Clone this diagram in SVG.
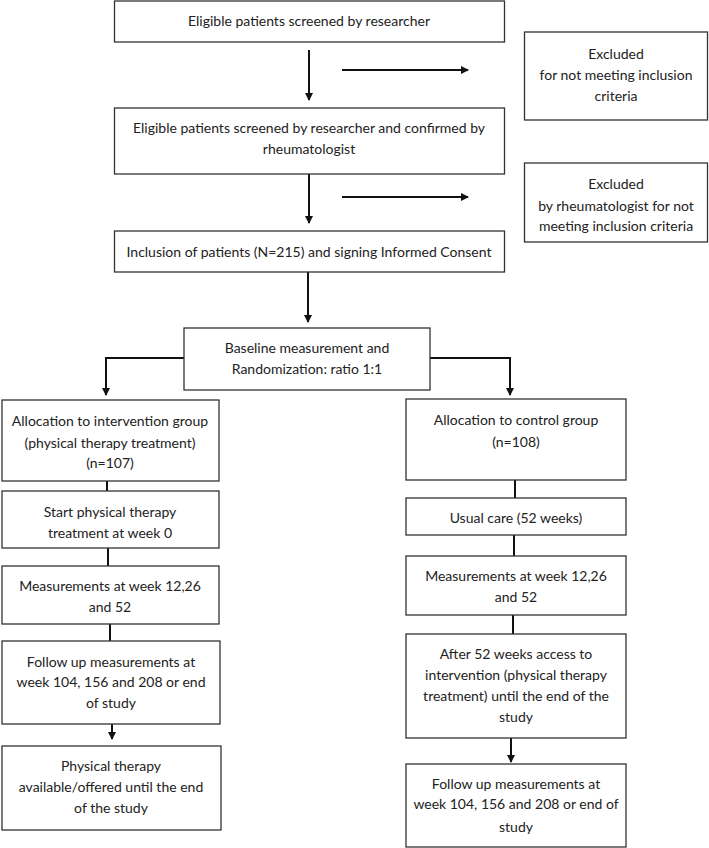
<svg xmlns="http://www.w3.org/2000/svg" width="709" height="848" viewBox="0 0 709 848">
<style>
.box{fill:#fff;stroke:#333;stroke-width:1.3}
.t{font-family:Lato,"Liberation Sans",sans-serif;font-size:14px;fill:#222;text-anchor:middle}
.c{fill:none;stroke:#111;stroke-width:2}
</style>
<defs>
<marker id="ah" markerWidth="8" markerHeight="8" refX="7" refY="4" orient="auto" markerUnits="userSpaceOnUse">
<path d="M0,0 L8,4 L0,8 Z" fill="#111"/>
</marker>
</defs>
<rect width="709" height="848" fill="#fff"/>
<g id="connectors">
<line class="c" x1="309" y1="50" x2="309" y2="100" marker-end="url(#ah)"/>
<line class="c" x1="342" y1="70" x2="468" y2="70" marker-end="url(#ah)"/>
<line class="c" x1="309" y1="174" x2="309" y2="223" marker-end="url(#ah)"/>
<line class="c" x1="342" y1="197" x2="468" y2="197" marker-end="url(#ah)"/>
<line class="c" x1="308" y1="272" x2="308" y2="322" marker-end="url(#ah)"/>
<polyline class="c" points="184,358 106,358 106,395" marker-end="url(#ah)"/>
<polyline class="c" points="430,358 510,358 510,395" marker-end="url(#ah)"/>
<line class="c" x1="107" y1="481" x2="107" y2="491"/>
<line class="c" x1="108" y1="548" x2="108" y2="566"/>
<line class="c" x1="110" y1="624" x2="110" y2="641"/>
<line class="c" x1="112" y1="724" x2="112" y2="739" marker-end="url(#ah)"/>
<line class="c" x1="515" y1="480" x2="515" y2="498"/>
<line class="c" x1="514" y1="535" x2="514" y2="556"/>
<line class="c" x1="513" y1="615" x2="513" y2="634"/>
<line class="c" x1="511" y1="738" x2="511" y2="762" marker-end="url(#ah)"/>
</g>
<g id="n1"><rect class="box" x="114.5" y="1" width="390" height="41"/><text class="t" x="309" y="26">Eligible patients screened by researcher</text></g>
<g id="ex1"><rect class="box" x="524.5" y="32" width="183" height="88"/><text class="t" x="616" y="59">Excluded</text><text class="t" x="616" y="80">for not meeting inclusion</text><text class="t" x="616" y="101">criteria</text></g>
<g id="n2"><rect class="box" x="114.5" y="108" width="390" height="66"/><text class="t" x="309" y="133">Eligible patients screened by researcher and confirmed by</text><text class="t" x="309" y="154">rheumatologist</text></g>
<g id="ex2"><rect class="box" x="524.5" y="163" width="183" height="79"/><text class="t" x="616" y="189">Excluded</text><text class="t" x="616" y="211">by rheumatologist for not</text><text class="t" x="616" y="231">meeting inclusion criteria</text></g>
<g id="n3"><rect class="box" x="114.5" y="231" width="390" height="41"/><text class="t" x="309" y="257">Inclusion of patients (N=215) and signing Informed Consent</text></g>
<g id="n4"><rect class="box" x="184" y="328" width="246" height="62"/><text class="t" x="307" y="353">Baseline measurement and</text><text class="t" x="307" y="374">Randomization: ratio 1:1</text></g>
<g id="l1"><rect class="box" x="2" y="400" width="217" height="81"/><text class="t" x="110" y="426">Allocation to intervention group</text><text class="t" x="110" y="448">(physical therapy treatment)</text><text class="t" x="110" y="468">(n=107)</text></g>
<g id="l2"><rect class="box" x="2" y="491" width="217" height="57"/><text class="t" x="110" y="517">Start physical therapy</text><text class="t" x="110" y="538">treatment at week 0</text></g>
<g id="l3"><rect class="box" x="2" y="566" width="217" height="58"/><text class="t" x="110" y="591">Measurements at week 12,26</text><text class="t" x="110" y="612">and 52</text></g>
<g id="l4"><rect class="box" x="2" y="641" width="218" height="83"/><text class="t" x="111" y="667">Follow up measurements at</text><text class="t" x="111" y="687">week 104, 156 and 208 or end</text><text class="t" x="111" y="708">of study</text></g>
<g id="l5"><rect class="box" x="2" y="746" width="219" height="84"/><text class="t" x="111" y="771">Physical therapy</text><text class="t" x="111" y="792">available/offered until the end</text><text class="t" x="111" y="813">of the study</text></g>
<g id="r1"><rect class="box" x="406" y="399" width="220" height="81"/><text class="t" x="516" y="425">Allocation to control group</text><text class="t" x="516" y="447">(n=108)</text></g>
<g id="r2"><rect class="box" x="406" y="498" width="220" height="37"/><text class="t" x="516" y="523">Usual care (52 weeks)</text></g>
<g id="r3"><rect class="box" x="406" y="556" width="220" height="59"/><text class="t" x="516" y="581">Measurements at week 12,26</text><text class="t" x="516" y="602">and 52</text></g>
<g id="r4"><rect class="box" x="406" y="634" width="220" height="104"/><text class="t" x="516" y="659">After 52 weeks access to</text><text class="t" x="516" y="680">intervention (physical therapy</text><text class="t" x="516" y="701">treatment) until the end of the</text><text class="t" x="516" y="722">study</text></g>
<g id="r5"><rect class="box" x="406" y="764" width="220" height="83"/><text class="t" x="516" y="789">Follow up measurements at</text><text class="t" x="516" y="809">week 104, 156 and 208 or end of</text><text class="t" x="516" y="832">study</text></g>
</svg>
